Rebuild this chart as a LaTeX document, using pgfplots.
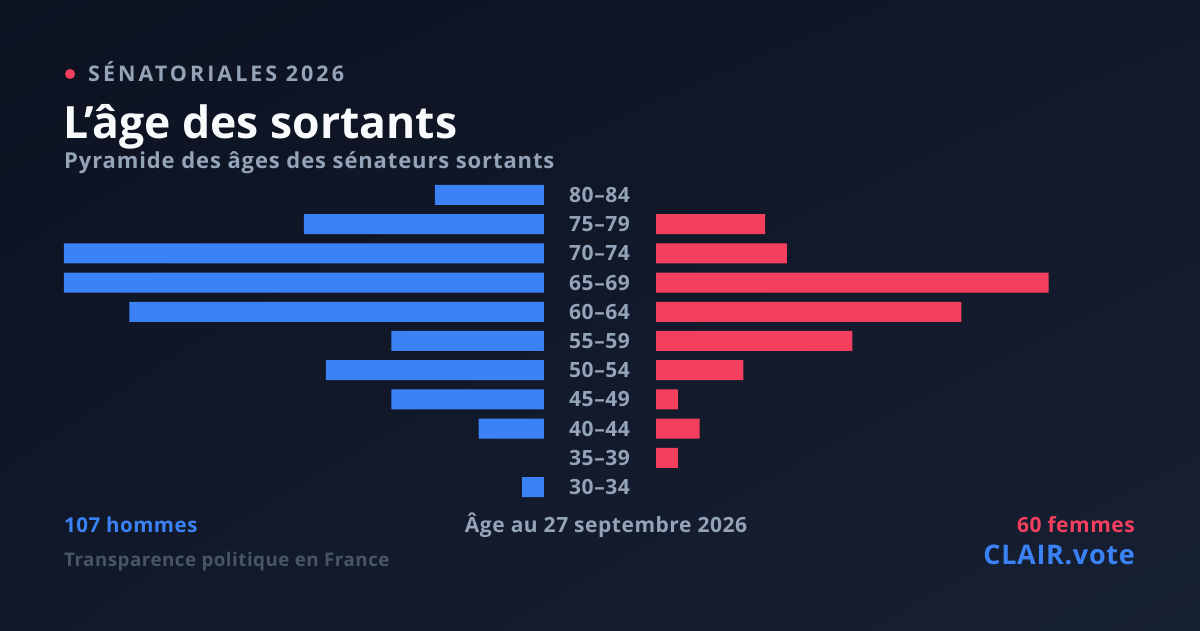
\documentclass[border=0pt]{standalone}
\usepackage{pgfplots}
\pgfplotsset{compat=1.18}
\usetikzlibrary{shadings}
\usepackage{fontspec}
\setmainfont{Open Sans}
\newfontfamily\spaced[LetterSpace=14]{Open Sans}
\newfontfamily\wide[LetterSpace=2.5]{Open Sans}
\newfontfamily\wider[LetterSpace=4]{Open Sans}
\definecolor{bgA}{HTML}{0C1220}
\definecolor{bgB}{HTML}{111829}
\definecolor{bgC}{HTML}{172134}
\definecolor{blueM}{HTML}{3B82F6}
\definecolor{redF}{HTML}{F43F5E}
\definecolor{grayL}{HTML}{94A3B8}
\definecolor{grayD}{HTML}{475569}
\definecolor{titleC}{HTML}{F8FAFC}
\begin{document}
\begin{tikzpicture}[x=1pt,y=1pt]
\shade[upper left=bgA, upper right=bgB, lower left=bgB, lower right=bgC] (0,0) rectangle (1200,630);
\fill[redF] (70,556) circle (5);
\node[anchor=base west, inner sep=0, text=grayL, font=\spaced\bfseries\fontsize{21.5}{26}\selectfont] at (88,548) {SÉNATORIALES 2026};
\node[anchor=base west, inner sep=0, text=titleC, font=\bfseries\fontsize{44.5}{50}\selectfont] at (63,491) {L’âge des sortants};
\node[anchor=base west, inner sep=0, text=grayL, font=\wider\bfseries\fontsize{22}{26}\selectfont] at (64,461) {Pyramide des âges des sénateurs sortants};
\node[anchor=base west, inner sep=0, text=blueM, font=\wide\bfseries\fontsize{20.5}{24}\selectfont] at (64,98) {107 hommes};
\node[anchor=base, inner sep=0, text=grayL, font=\wide\bfseries\fontsize{21}{24}\selectfont] at (606,98) {Âge au 27 septembre 2026};
\node[anchor=base east, inner sep=0, text=redF, font=\wide\bfseries\fontsize{21}{24}\selectfont] at (1135,98) {60 femmes};
\node[anchor=base west, inner sep=0, text=grayD, font=\wide\bfseries\fontsize{18.8}{23}\selectfont] at (64,64) {Transparence politique en France};
\node[anchor=base east, inner sep=0, text=blueM, font=\wide\bfseries\fontsize{27}{30}\selectfont] at (1135,66) {CLAIR.vote};
\begin{axis}[
  at={(544pt,128.4pt)}, anchor=south east,
  scale only axis, width=480pt, height=321.2pt,
  xmin=0, xmax=22, ymin=-0.5, ymax=10.5, x dir=reverse,
  axis line style={draw=none}, tick style={draw=none},
  xtick=\empty, ytick=\empty, clip=false]
\addplot[xbar, fill=blueM, draw=none, bar width=20pt] coordinates {
(1,0) (3,2) (7,3) (10,4) (7,5) (19,6) (22,7) (22,8) (11,9) (5,10)};
\end{axis}
\begin{axis}[
  at={(656pt,128.4pt)}, anchor=south west,
  scale only axis, width=480pt, height=321.2pt,
  xmin=0, xmax=22, ymin=-0.5, ymax=10.5,
  axis line style={draw=none}, tick style={draw=none}, major tick length=0pt,
  xtick=\empty, ytick={0,...,10},
  yticklabels={30–34,35–39,40–44,45–49,50–54,55–59,60–64,65–69,70–74,75–79,80–84},
  yticklabel style={anchor=center, xshift=-56.5pt, text=grayL, font=\wide\bfseries\fontsize{21}{24}\selectfont, inner sep=0pt},
  clip=false]
\addplot[xbar, fill=redF, draw=none, bar width=20pt] coordinates {
(1,1) (2,2) (1,3) (4,4) (9,5) (14,6) (18,7) (6,8) (5,9)};
\end{axis}
\pgfresetboundingbox
\path[use as bounding box] (0,0) rectangle (1200,630);
\end{tikzpicture}
\end{document}
